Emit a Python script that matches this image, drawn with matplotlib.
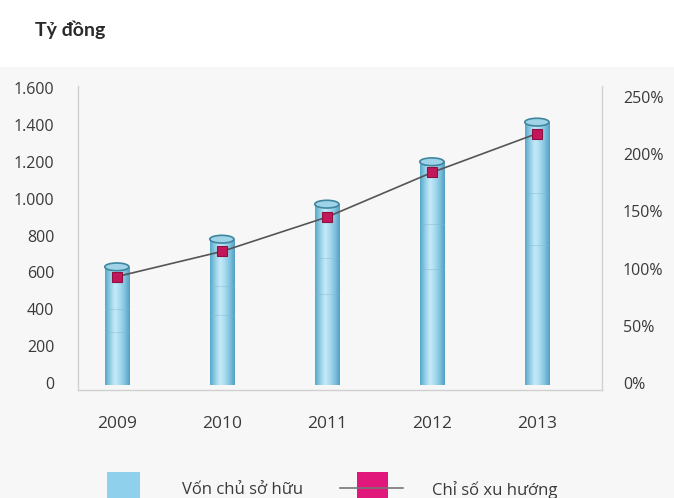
import numpy as np
import matplotlib
matplotlib.use("Agg")
import matplotlib.pyplot as plt
from matplotlib.colors import LinearSegmentedColormap
from matplotlib.patches import Ellipse, Rectangle
from matplotlib.lines import Line2D

years = ["2009", "2010", "2011", "2012", "2013"]
von_chu_so_huu = [630, 780, 970, 1200, 1415]      # tỷ đồng
chi_so_xu_huong = [93, 115, 145, 184, 218]        # %
left_ticks = [0, 200, 400, 600, 800, 1000, 1200, 1400, 1600]
left_labels = ["0", "200", "400", "600", "800", "1.000", "1.200", "1.400", "1.600"]
right_ticks = [0, 50, 100, 150, 200, 250]
right_labels = ["0%", "50%", "100%", "150%", "200%", "250%"]

W, H = 674, 498
plt.rcParams["font.family"] = ["Open Sans", "DejaVu Sans"]
fig = plt.figure(figsize=(W / 100, H / 100), dpi=100)
fig.patch.set_facecolor("white")
# light grey panel under the heading
fig.add_artist(Rectangle((0, 0), 1, 1 - 67 / H, transform=fig.transFigure,
                         facecolor="#f7f7f7", edgecolor="none", zorder=-10))

ax = fig.add_axes([78 / W, 1 - 390 / H, (602 - 78) / W, (390 - 86) / H])
ax.set_facecolor("none")
ax2 = ax.twinx()

x = np.arange(len(years))
bw = 0.23
cyl = LinearSegmentedColormap.from_list(
    "cyl", ["#55a7c8", "#92cee6", "#c6eaf8", "#a8dbef", "#80c3de", "#529fc2"])
grad = np.linspace(0, 1, 64).reshape(1, -1)
cap_h = 42

for xi, v in zip(x, von_chu_so_huu):
    ax.imshow(grad, cmap=cyl, aspect="auto", interpolation="bicubic",
              extent=(xi - bw / 2, xi + bw / 2, -10, v), zorder=2)
    ax.add_patch(Ellipse((xi, v), bw, cap_h, facecolor="#9fd3e8",
                         edgecolor="#3f869f", lw=1.2, zorder=3))
    # faint bands across the cylinder
    for frac in (0.6, 0.8):
        ax.plot([xi - bw / 2, xi + bw / 2], [v * frac - 100, v * frac - 100],
                color="#7fb8d0", lw=0.6, alpha=0.5, zorder=2.5)

ax.set_xlim(-0.37, 4.62)
ax.set_ylim(-38, 1611)
ax2.set_ylim(-6.1, 259.6)

ax2.plot(x, chi_so_xu_huong, color="#555555", lw=1.2, zorder=4,
         marker="s", markersize=7.5, markerfacecolor="#c2185b",
         markeredgecolor="#8e1040", markeredgewidth=0.8)

ax.set_yticks(left_ticks)
ax.set_yticklabels(left_labels)
ax2.set_yticks(right_ticks)
ax2.set_yticklabels(right_labels)
ax.set_xticks(x)
ax.set_xticklabels(years)

for a in (ax, ax2):
    a.tick_params(length=0, labelsize=11.5, labelcolor="#3a3a3a")
    for s in a.spines.values():
        s.set_visible(False)
ax.tick_params(axis="x", labelsize=12.5, pad=19)
ax.tick_params(axis="y", pad=17)
ax2.tick_params(axis="y", pad=15)
for lbl in ax2.get_yticklabels():
    lbl.set_horizontalalignment("left")

ax.spines["left"].set_visible(True)
ax.spines["bottom"].set_visible(True)
ax2.spines["right"].set_visible(True)
for s in (ax.spines["left"], ax.spines["bottom"], ax2.spines["right"]):
    s.set_color("#d0d0d0")
    s.set_linewidth(1.0)

fig.text(35 / W, 1 - 30 / H, "Tỷ đồng", fontsize=14, fontweight="bold",
         family=["Lato", "DejaVu Sans"], color="#2a2a2a", va="center", ha="left")

# legend along the bottom
def px(xp, yp):
    return xp / W, 1 - yp / H

fig.add_artist(Rectangle(px(107, 500), 33 / W, 28 / H, transform=fig.transFigure,
                         facecolor="#8fd0ec", edgecolor="none"))
fig.text(*px(182, 490), "Vốn chủ sở hữu", fontsize=12, color="#3a3a3a", va="center")
fig.add_artist(Line2D([340 / W, 403 / W], [1 - 488 / H] * 2, transform=fig.transFigure,
                      color="#777777", lw=1.2))
fig.add_artist(Rectangle(px(357, 500), 31 / W, 28 / H, transform=fig.transFigure,
                         facecolor="#e2177c", edgecolor="none"))
fig.text(*px(432, 490), "Chỉ số xu hướng", fontsize=12, color="#3a3a3a", va="center")

fig.savefig("out.png", dpi=100)
